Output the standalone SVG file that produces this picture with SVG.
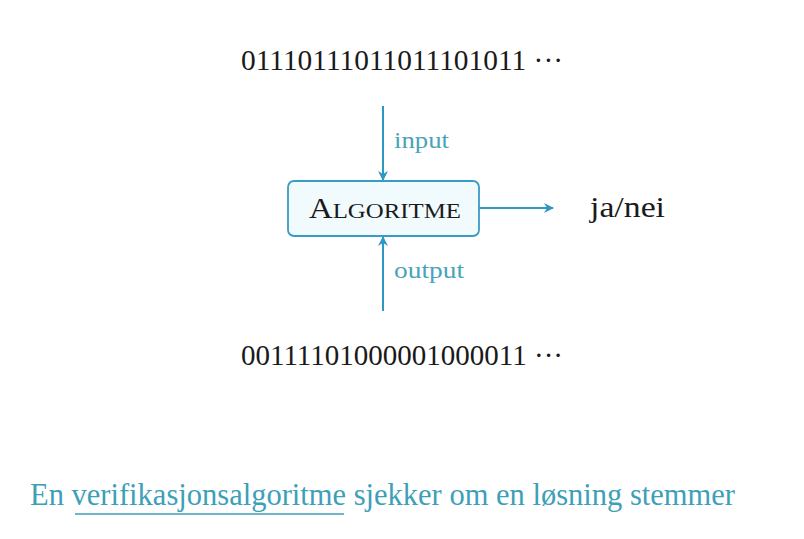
<svg xmlns="http://www.w3.org/2000/svg" width="804" height="539" viewBox="0 0 804 539">
<defs>
<style>
.serif{font-family:"Liberation Serif","DejaVu Serif",serif;}
.bits{font-size:30px;fill:#1a1a1a;}
.lbl{font-size:23px;fill:#4aa3b8;}
.edge{stroke:#2f97c4;stroke-width:2;fill:none;}
.title{font-size:31px;fill:#3d9fb8;}
</style>
<marker id="ah" viewBox="0 0 10 10" refX="9" refY="5" markerWidth="11" markerHeight="10" orient="auto" markerUnits="userSpaceOnUse">
<path d="M0,0 L10,5 L0,10 L3,5 Z" fill="#2f97c4"/>
</marker>
</defs>
<rect width="804" height="539" fill="#ffffff"/>
<g id="input-bits">
<text class="serif bits" x="241" y="70" textLength="322" lengthAdjust="spacingAndGlyphs">01110111011011101011 ···</text>
</g>
<g id="output-bits">
<text class="serif bits" x="241" y="365" textLength="322" lengthAdjust="spacingAndGlyphs">00111101000001000011 ···</text>
</g>
<g id="connectors">
<line class="edge" x1="383" y1="106" x2="383" y2="180" marker-end="url(#ah)"/>
<line class="edge" x1="383" y1="311" x2="383" y2="237" marker-end="url(#ah)"/>
<line class="edge" x1="479" y1="208" x2="553" y2="208" marker-end="url(#ah)"/>
<text class="serif lbl" x="394" y="148" textLength="55" lengthAdjust="spacingAndGlyphs">input</text>
<text class="serif lbl" x="394" y="278" textLength="70" lengthAdjust="spacingAndGlyphs">output</text>
</g>
<g id="algoritme">
<rect x="288" y="181" width="191" height="55" rx="6" ry="6" fill="#f1fafd" stroke="#3a9cc4" stroke-width="1.8"/>
<text class="serif" x="309" y="218" fill="#1a1a1a" textLength="152" lengthAdjust="spacingAndGlyphs"><tspan font-size="29">A</tspan><tspan font-size="22">LGORITME</tspan></text>
</g>
<g id="result"><text class="serif" x="590" y="217" font-size="29" fill="#1a1a1a" textLength="75" lengthAdjust="spacingAndGlyphs">ja/nei</text></g>
<g id="caption">
<text class="serif title" x="30" y="505" textLength="705" lengthAdjust="spacingAndGlyphs">En verifikasjonsalgoritme sjekker om en løsning stemmer</text>
<line x1="75" y1="514" x2="344" y2="514" stroke="#3d9fb8" stroke-width="1.5"/>
</g>
</svg>
